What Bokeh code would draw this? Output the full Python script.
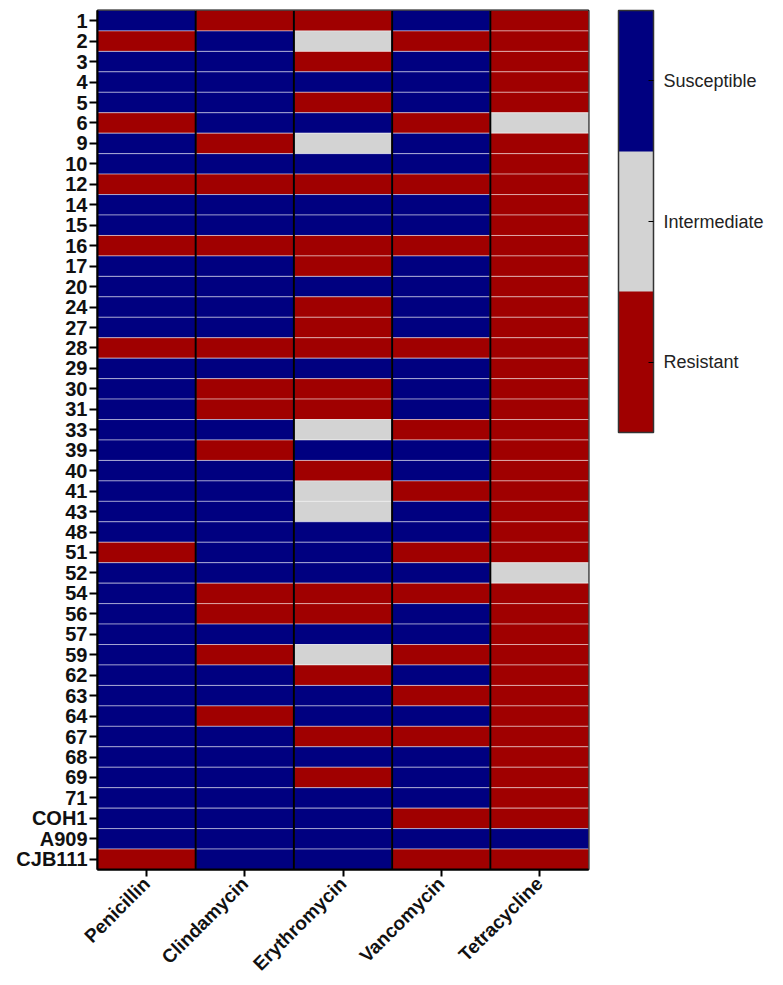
import math
from bokeh.plotting import figure
from bokeh.models import (FactorRange, ColorBar, LinearColorMapper, FixedTicker,
                          ColumnDataSource)
from bokeh.embed import file_html
from bokeh.resources import INLINE

strains = ["1", "2", "3", "4", "5", "6", "9", "10", "12", "14", "15", "16", "17", "20",
           "24", "27", "28", "29", "30", "31", "33", "39", "40", "41", "43", "48", "51",
           "52", "54", "56", "57", "59", "62", "63", "64", "67", "68", "69", "71",
           "COH1", "A909", "CJB111"]
antibiotics = ["Penicillin", "Clindamycin", "Erythromycin", "Vancomycin", "Tetracycline"]

# S = Susceptible, I = Intermediate, R = Resistant
penicillin = ["S", "R", "S", "S", "S", "R", "S", "S", "R", "S", "S", "R", "S", "S",
              "S", "S", "R", "S", "S", "S", "S", "S", "S", "S", "S", "S", "R",
              "S", "S", "S", "S", "S", "S", "S", "S", "S", "S", "S", "S",
              "S", "S", "R"]
clindamycin = ["R", "S", "S", "S", "S", "S", "R", "S", "R", "S", "S", "R", "S", "S",
               "S", "S", "R", "S", "R", "R", "S", "R", "S", "S", "S", "S", "S",
               "S", "R", "R", "S", "R", "S", "S", "R", "S", "S", "S", "S",
               "S", "S", "S"]
erythromycin = ["R", "I", "R", "S", "R", "S", "I", "S", "R", "S", "S", "R", "R", "S",
                "R", "R", "R", "S", "R", "R", "I", "S", "R", "I", "I", "S", "S",
                "S", "R", "R", "S", "I", "R", "S", "S", "R", "S", "R", "S",
                "S", "S", "S"]
vancomycin = ["S", "R", "S", "S", "S", "R", "S", "S", "R", "S", "S", "R", "S", "S",
              "S", "S", "R", "S", "S", "S", "R", "S", "S", "R", "S", "S", "R",
              "S", "R", "S", "S", "R", "S", "R", "S", "R", "S", "S", "S",
              "R", "S", "R"]
tetracycline = ["R", "R", "R", "R", "R", "I", "R", "R", "R", "R", "R", "R", "R", "R",
                "R", "R", "R", "R", "R", "R", "R", "R", "R", "R", "R", "R", "R",
                "I", "R", "R", "R", "R", "R", "R", "R", "R", "R", "R", "R",
                "R", "S", "R"]

legend_labels = ["Resistant", "Intermediate", "Susceptible"]
status_codes = ["R", "I", "S"]
palette = ["#a00000", "#d3d3d3", "#000080"]

columns = [penicillin, clindamycin, erythromycin, vancomycin, tetracycline]
xs, ys, cs = [], [], []
color_of = dict(zip(status_codes, palette))
for ab, col in zip(antibiotics, columns):
    for s, v in zip(strains, col):
        xs.append(ab)
        ys.append(s)
        cs.append(color_of[v])
src = ColumnDataSource(dict(x=xs, y=ys, c=cs))

FONT = "Liberation Sans"
W, H = 783, 985
B_LEFT, B_TOP, B_BOTTOM, B_RIGHT = 97, 10, 116, 195
frame_h = H - B_TOP - B_BOTTOM
bar_h = 422

p = figure(width=W, height=H,
           x_range=FactorRange(factors=antibiotics),
           y_range=FactorRange(factors=list(reversed(strains))),
           output_backend="svg", toolbar_location=None,
           min_border_left=B_LEFT, min_border_top=B_TOP,
           min_border_bottom=B_BOTTOM, min_border_right=B_RIGHT)
p.x_range.range_padding = 0
p.y_range.range_padding = 0

p.rect(x="x", y="y", width=1, height=1, source=src, fill_color="c",
       line_color="white", line_alpha=0.45, line_width=1)

# column separators
n_ab = len(antibiotics)
n_st = len(strains)
p.segment(x0=list(range(1, n_ab)), x1=list(range(1, n_ab)),
          y0=[0] * (n_ab - 1), y1=[n_st] * (n_ab - 1),
          line_color="black", line_width=2)

p.grid.visible = False
p.outline_line_color = "black"
p.outline_line_width = 2
p.background_fill_color = "white"

for ax in (p.xaxis[0], p.yaxis[0]):
    ax.axis_line_color = "black"
    ax.axis_line_width = 2
    ax.major_tick_line_color = "black"
    ax.major_tick_line_width = 2
    ax.major_tick_in = 0
    ax.minor_tick_line_color = None
    ax.major_label_text_font = FONT
    ax.major_label_text_font_style = "bold"
    ax.major_label_text_font_size = "19px"
    ax.major_label_text_color = "#111111"

p.yaxis.major_label_text_font_size = "20px"
p.yaxis.major_tick_out = 8
p.yaxis.major_label_standoff = 2
p.xaxis.major_tick_out = 7
p.xaxis.major_label_standoff = 4
p.xaxis.major_label_orientation = math.pi / 4

mapper = LinearColorMapper(palette=palette, low=0, high=len(palette))
tick_pos = [i + 0.5 for i in range(len(legend_labels))]
cb = ColorBar(color_mapper=mapper, width=35, height=bar_h,
              ticker=FixedTicker(ticks=tick_pos),
              major_label_overrides={t: l for t, l in zip(tick_pos, legend_labels)},
              major_label_text_font=FONT, major_label_text_font_size="18px",
              major_label_text_color="#222222",
              major_tick_line_color="black", major_tick_in=5, major_tick_out=0,
              bar_line_color="#333333", bar_line_width=1.5,
              border_line_color=None, background_fill_color=None,
              label_standoff=10, margin=0, padding=0,
              location=(30, frame_h - bar_h))
p.add_layout(cb, "right")

open("out.html", "w").write(file_html(p, INLINE))
